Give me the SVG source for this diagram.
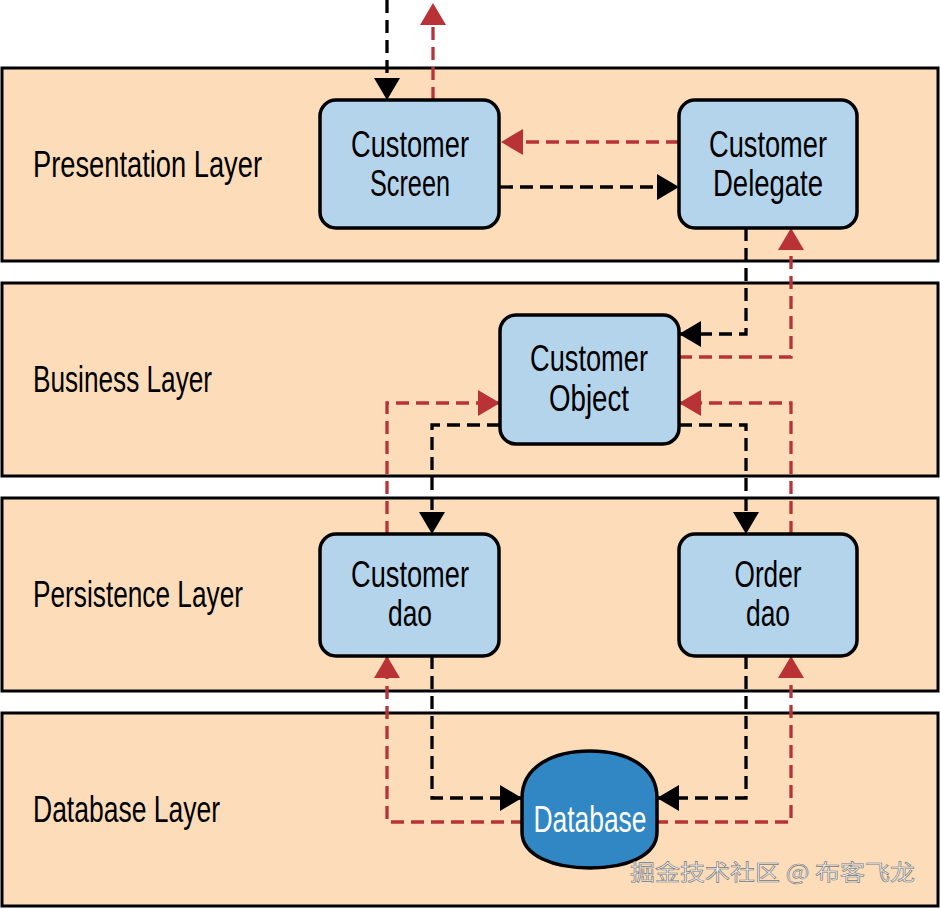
<svg xmlns="http://www.w3.org/2000/svg" width="940" height="909" viewBox="0 0 940 909">
<style>
.layer{fill:#FDDDB9;stroke:#000;stroke-width:3}
.node{fill:#B4D4EC;stroke:#000;stroke-width:3.5}
.lbl{font-family:"Liberation Sans",Arial,sans-serif;font-size:37px;fill:#000}
.nt{font-family:"Liberation Sans",Arial,sans-serif;font-size:37px;fill:#000;text-anchor:middle}
.blk{fill:none;stroke:#000;stroke-width:3.3;stroke-dasharray:13 7}
.red{fill:none;stroke:#B83236;stroke-width:3.3;stroke-dasharray:13 7}
</style>
<defs>
<marker id="ab" markerUnits="userSpaceOnUse" markerWidth="24" markerHeight="26" refX="22" refY="13" orient="auto" viewBox="0 0 24 26">
<path d="M0,0 L22,13 L0,26 Z" fill="#000"/>
</marker>
<marker id="ar" markerUnits="userSpaceOnUse" markerWidth="24" markerHeight="26" refX="22" refY="13" orient="auto" viewBox="0 0 24 26">
<path d="M0,0 L22,13 L0,26 Z" fill="#B83236"/>
</marker>
</defs>
<rect width="940" height="909" fill="#fff"/>
<g id="layers">
<g id="presentation-layer"><rect class="layer" x="2" y="68" width="936" height="193"/><text class="lbl" x="33" y="177" textLength="229" lengthAdjust="spacingAndGlyphs">Presentation Layer</text></g>
<g id="business-layer"><rect class="layer" x="2" y="283" width="936" height="193"/><text class="lbl" x="33" y="392" textLength="179" lengthAdjust="spacingAndGlyphs">Business Layer</text></g>
<g id="persistence-layer"><rect class="layer" x="2" y="498" width="936" height="193"/><text class="lbl" x="33" y="607" textLength="210" lengthAdjust="spacingAndGlyphs">Persistence Layer</text></g>
<g id="database-layer"><rect class="layer" x="2" y="713" width="936" height="193"/><text class="lbl" x="33" y="822" textLength="187" lengthAdjust="spacingAndGlyphs">Database Layer</text></g>
</g>
<g id="connectors">
<path class="blk" d="M387,0 V100" marker-end="url(#ab)"/>
<path class="red" d="M433,100 V3" marker-end="url(#ar)"/>
<path class="blk" d="M500,187 H679" marker-end="url(#ab)"/>
<path class="red" d="M679,142 H501" marker-end="url(#ar)"/>
<path class="blk" d="M746,228 V334 H679" marker-end="url(#ab)"/>
<path class="red" d="M679,357 H791 V228" marker-end="url(#ar)"/>
<path class="red" d="M387,534 V403 H500" marker-end="url(#ar)"/>
<path class="red" d="M791,534 V403 H679" marker-end="url(#ar)"/>
<path class="blk" d="M500,425 H432 V534" marker-end="url(#ab)"/>
<path class="blk" d="M679,425 H746 V534" marker-end="url(#ab)"/>
<path class="blk" d="M432,656 V798 H522" marker-end="url(#ab)"/>
<path class="blk" d="M746,656 V798 H657" marker-end="url(#ab)"/>
<path class="red" d="M524,822 H387 V656" marker-end="url(#ar)"/>
<path class="red" d="M655,822 H791 V656" marker-end="url(#ar)"/>
</g>
<g id="customer-screen"><rect class="node" x="320" y="100" width="179" height="128" rx="16"/><text class="nt" x="410" y="157" textLength="118" lengthAdjust="spacingAndGlyphs">Customer</text><text class="nt" x="410" y="196" textLength="80" lengthAdjust="spacingAndGlyphs">Screen</text></g>
<g id="customer-delegate"><rect class="node" x="679" y="100" width="178" height="128" rx="16"/><text class="nt" x="768" y="157" textLength="118" lengthAdjust="spacingAndGlyphs">Customer</text><text class="nt" x="768" y="196" textLength="110" lengthAdjust="spacingAndGlyphs">Delegate</text></g>
<g id="customer-object"><rect class="node" x="500" y="315" width="179" height="129" rx="16"/><text class="nt" x="589" y="371" textLength="118" lengthAdjust="spacingAndGlyphs">Customer</text><text class="nt" x="589" y="411" textLength="80" lengthAdjust="spacingAndGlyphs">Object</text></g>
<g id="customer-dao"><rect class="node" x="320" y="534" width="179" height="122" rx="16"/><text class="nt" x="410" y="587" textLength="118" lengthAdjust="spacingAndGlyphs">Customer</text><text class="nt" x="410" y="626" textLength="44" lengthAdjust="spacingAndGlyphs">dao</text></g>
<g id="order-dao"><rect class="node" x="679" y="534" width="178" height="122" rx="16"/><text class="nt" x="768" y="587" textLength="67" lengthAdjust="spacingAndGlyphs">Order</text><text class="nt" x="768" y="626" textLength="44" lengthAdjust="spacingAndGlyphs">dao</text></g>
<g id="database"><path d="M522,798 C522,766 554,751 590,751 C626,751 657,766 657,798 L657,832 C657,856 626,868 590,868 C554,868 522,856 522,832 Z" fill="#3187C4" stroke="#000" stroke-width="3.5"/><text class="nt" x="590" y="832" style="fill:#fff" textLength="113" lengthAdjust="spacingAndGlyphs">Database</text></g>
<text x="630" y="880" font-family="'Noto Sans CJK SC',sans-serif" font-size="22" fill="#EFEFEF" stroke="#777" stroke-width="0.6" textLength="285" lengthAdjust="spacingAndGlyphs">掘金技术社区 @ 布客飞龙</text>
</svg>
